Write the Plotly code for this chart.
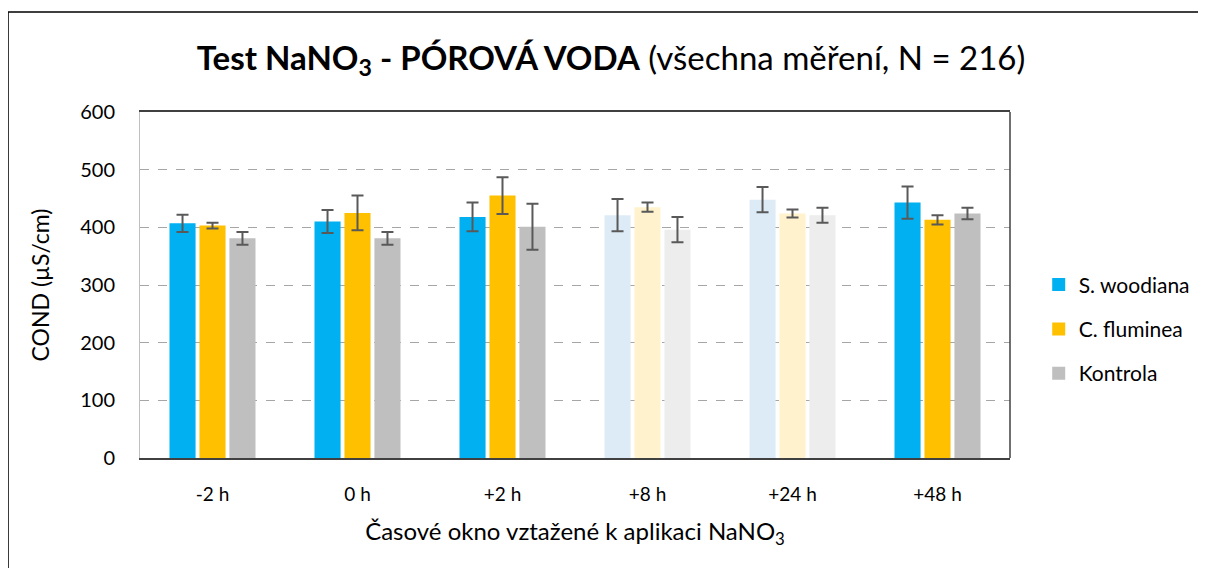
import plotly.graph_objects as go

categories = ["-2 h", "0 h", "+2 h", "+8 h", "+24 h", "+48 h"]

s_woodiana = [407, 410, 418, 421, 448, 443]
s_woodiana_err = [15, 20, 25, 28, 22, 28]
c_fluminea = [403, 425, 455, 435, 424, 413]
c_fluminea_err = [5, 30, 32, 8, 7, 8]
kontrola = [381, 381, 401, 396, 421, 424]
kontrola_err = [11, 11, 40, 22, 13, 10]

# faded categories (+8 h, +24 h) use pale tints
faded = [False, False, False, True, True, False]

colors = {
    "S. woodiana": ("#00B0F0", "#DDEBF7"),
    "C. fluminea": ("#FFC000", "#FFF2CC"),
    "Kontrola": ("#BFBFBF", "#EDEDED"),
}

series = [
    ("S. woodiana", s_woodiana, s_woodiana_err),
    ("C. fluminea", c_fluminea, c_fluminea_err),
    ("Kontrola", kontrola, kontrola_err),
]

FONT = "Lato"

fig = go.Figure()
for name, vals, errs in series:
    full, pale = colors[name]
    fig.add_trace(
        go.Bar(
            x=categories,
            y=vals,
            name=name,
            showlegend=False,
            marker=dict(color=[pale if f else full for f in faded], line=dict(width=0)),
            error_y=dict(type="data", array=errs, color="#595959", thickness=2, width=6),
        )
    )

# legend entries always in full colour
for name, _, _ in series:
    fig.add_trace(
        go.Scatter(
            x=[None], y=[None], mode="markers", name=name, legendgroup=name,
            marker=dict(symbol="square", size=13, color=colors[name][0]),
        )
    )

# page body adds an 8px offset, margins compensate
fig.update_layout(
    width=1206,
    height=568,
    margin=dict(l=132, r=204, t=104, b=118),
    paper_bgcolor="white",
    plot_bgcolor="white",
    font=dict(family=FONT, size=19, color="#000000"),
    title=dict(
        text="<b>Test NaNO<sub>3</sub> - PÓROVÁ VODA</b> (všechna měření, N = 216)",
        x=0.5, xanchor="center", y=0.912, yanchor="middle",
        font=dict(family=FONT, size=33, color="#000000"),
    ),
    barmode="group",
    bargap=0.38,
    bargroupgap=0.13,
    showlegend=True,
    legend=dict(
        x=1.033, xanchor="left", y=0.373, yanchor="middle",
        font=dict(family=FONT, size=21),
        itemwidth=30, tracegroupgap=14,
    ),
    shapes=[
        dict(type="rect", xref="paper", yref="paper",
             x0=-0.1517, x1=1.3, y0=-0.5, y1=1.289,
             line=dict(color="#000000", width=1.5), layer="below"),
        dict(type="line", xref="paper", yref="paper",
             x0=1, x1=1, y0=0, y1=1, line=dict(color="#404040", width=1.5)),
    ],
)

fig.update_xaxes(
    showline=True, mirror=True, linecolor="#404040", linewidth=2,
    ticks="", ticklabelstandoff=18,
    title=dict(text="Časové okno vztažené k aplikaci NaNO<sub>3</sub>",
               font=dict(family=FONT, size=24), standoff=19),
    tickfont=dict(family=FONT, size=19),
)
fig.update_yaxes(
    range=[0, 600], dtick=100,
    showline=True, linecolor="#BFBFBF", linewidth=1,
    showgrid=True, gridcolor="#A6A6A6", griddash="dash", gridwidth=1,
    zeroline=False, ticks="", ticklabelstandoff=20,
    title=dict(text="COND (µS/cm)", font=dict(family=FONT, size=23), standoff=24),
    tickfont=dict(family=FONT, size=20),
)

fig.write_html("out.html")
